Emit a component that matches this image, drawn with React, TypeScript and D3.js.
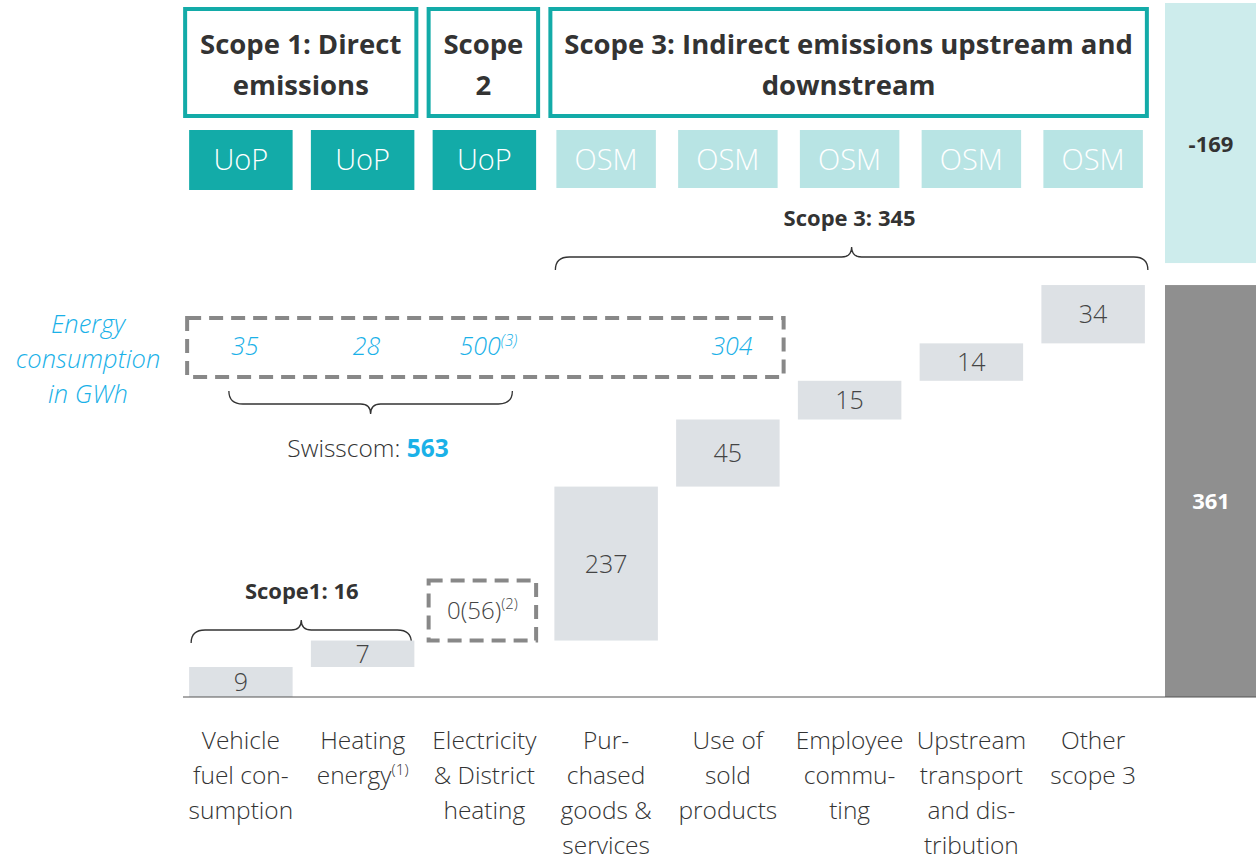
import * as d3 from 'd3'

const categories = [
  ['Vehicle', 'fuel con-', 'sumption'],
  ['Heating', 'energy^(1)'],
  ['Electricity', '& District', 'heating'],
  ['Pur-', 'chased', 'goods &', 'services'],
  ['Use of', 'sold', 'products'],
  ['Employee', 'commu-', 'ting'],
  ['Upstream', 'transport', 'and dis-', 'tribution'],
  ['Other', 'scope 3'],
]
const stepValues = [9, 7, 0, 237, 45, 15, 14, 34]
const stepLabels = ['9', '7', '0(56)^(2)', '237', '45', '15', '14', '34']
const methods = ['UoP', 'UoP', 'UoP', 'OSM', 'OSM', 'OSM', 'OSM', 'OSM']
const energyValues = ['35', '28', '500^(3)', '', '304', '', '', '']
const scopeTitles = [
  ['Scope 1: Direct', 'emissions'],
  ['Scope', '2'],
  ['Scope 3: Indirect emissions upstream and', 'downstream'],
]
const scopeSpans = [[0, 1], [2, 2], [3, 7]]
const totalValue = 361
const offsetValue = -169
const scope1Total = 16
const scope3Total = 345
const swisscomEnergy = 563

const W = 1256
const H = 860
const baseY = 697
const TEAL = '#13aba8'
const TEAL_LIGHT = '#b8e4e4'
const CYAN = '#1ab1e8'
const DARK = '#333'
const FONT = "'Open Sans', 'Noto Sans', sans-serif"

// text with optional ^superscript
function Sup({ s, size }: { s: string; size: number }) {
  const [main, note] = s.split('^')
  return (
    <>
      {main}
      {note && <tspan fontSize={size * 0.62} dy={-size * 0.38}>{note}</tspan>}
    </>
  )
}

// horizontal curly brace, dir -1 = tip up, +1 = tip down
function brace(x0: number, x1: number, y: number, dir: number) {
  const xm = (x0 + x1) / 2
  const h = 13, t = 10
  return `M${x0},${y - dir * h} Q${x0},${y} ${x0 + 14},${y} L${xm - 10},${y} Q${xm},${y} ${xm},${y + dir * t} ` +
    `Q${xm},${y} ${xm + 10},${y} L${x1 - 14},${y} Q${x1},${y} ${x1},${y - dir * h}`
}

export default function App() {
  const x = d3.scaleBand<number>()
    .domain(d3.range(categories.length))
    .range([180, 1154])
    .paddingInner(0.15)
    .paddingOuter(0.075)
  const bw = x.bandwidth()
  const cx = (i: number) => (x(i) ?? 0) + bw / 2

  // schematic waterfall: heights on a sqrt scale
  const h = d3.scaleSqrt().domain([0, totalValue]).range([0, 190])

  let level = baseY
  const steps = stepValues.map((v, i) => {
    const hh = h(v)
    const top = level - hh
    const s = { i, v, top, bottom: level, hh }
    level = top
    return s
  })
  const totalTop = level
  const totX = x.range()[1] + 11

  const boxY = 9, boxH = 107
  const mY = 130, mH = 60

  return (
    <div style={{ position: 'absolute', left: 0, top: 0 }}>
      <svg width={W} height={H} fontFamily={FONT}>
        {/* scope header boxes */}
        {scopeTitles.map((lines, k) => {
          const [a, b] = scopeSpans[k]
          const x0 = (x(a) ?? 0) - 4
          const x1 = (x(b) ?? 0) + bw + 2
          return (
            <g key={k}>
              <rect x={x0} y={boxY} width={x1 - x0} height={boxH} fill="#fff" stroke={TEAL} strokeWidth={4} />
              {lines.map((l, j) => (
                <text key={j} x={(x0 + x1) / 2} y={boxY + 45 + j * 41} textAnchor="middle"
                  fontSize={27.5} fontWeight={700} fill={DARK}>{l}</text>
              ))}
            </g>
          )
        })}

        {/* method boxes */}
        {methods.map((m, i) => {
          const light = m === 'OSM'
          const w = light ? bw - 4 : bw
          return (
            <g key={i}>
              <rect x={cx(i) - w / 2} y={mY} width={w} height={light ? mH - 2 : mH} fill={light ? TEAL_LIGHT : TEAL} />
              <text x={cx(i)} y={mY + mH / 2 + 10} textAnchor="middle" fontSize={29} fontWeight={300} fill="#fff">{m}</text>
            </g>
          )
        })}

        {/* scope 3 brace */}
        <text x={(cx(3) + cx(7)) / 2} y={226} textAnchor="middle" fontSize={22} fontWeight={700} fill={DARK}>
          Scope 3: {scope3Total}
        </text>
        <path d={brace((x(3) ?? 0) + 1, (x(7) ?? 0) + bw + 3, 257, -1)} fill="none" stroke={DARK} strokeWidth={1.3} />

        {/* energy consumption */}
        {['Energy', 'consumption', 'in GWh'].map((l, j) => (
          <text key={j} x={88} y={333 + j * 35} textAnchor="middle" fontSize={25.5} fontStyle="italic" fontWeight={300} fill={CYAN}>{l}</text>
        ))}
        <rect x={(x(0) ?? 0) - 2} y={318} width={(x(4) ?? 0) + bw + 6 - (x(0) ?? 0)} height={59}
          fill="none" stroke="#888" strokeWidth={4} strokeDasharray="14 8" />
        {energyValues.map((e, i) => e && (
          <text key={i} x={cx(i) + 4} y={355} textAnchor="middle" fontSize={25} fontStyle="italic" fontWeight={300} fill={CYAN}>
            <Sup s={e} size={25} />
          </text>
        ))}
        <path d={brace(cx(0) - 12, cx(2) + 28, 404, 1)} fill="none" stroke={DARK} strokeWidth={1.3} />
        <text x={368} y={457} textAnchor="middle" fontSize={24.5} fontWeight={300} fill={DARK}>
          Swisscom: <tspan fontWeight={700} fill={CYAN}>{swisscomEnergy}</tspan>
        </text>

        {/* scope 1 brace */}
        <text x={(cx(0) + cx(1)) / 2} y={599} textAnchor="middle" fontSize={22} fontWeight={700} fill={DARK}>
          Scope1: {scope1Total}
        </text>
        <path d={brace((x(0) ?? 0) + 2, (x(1) ?? 0) + bw - 3, 630, -1)} fill="none" stroke={DARK} strokeWidth={1.3} />

        {/* waterfall steps */}
        {steps.map(s => s.v === 0 ? (
          <g key={s.i}>
            <rect x={(x(s.i) ?? 0) - 4} y={s.bottom - 60} width={bw + 4} height={60}
              fill="none" stroke="#888" strokeWidth={4} strokeDasharray="14 8" />
            <text x={cx(s.i) - 2} y={s.bottom - 22} textAnchor="middle" fontSize={24} fontWeight={300} fill="#444">
              <Sup s={stepLabels[s.i]} size={24} />
            </text>
          </g>
        ) : (
          <g key={s.i}>
            <rect x={x(s.i)} y={s.top} width={bw} height={s.hh} fill="#dde1e5" />
            <text x={cx(s.i)} y={(s.top + s.bottom) / 2 + 9} textAnchor="middle" fontSize={25} fontWeight={300} fill="#444">
              {stepLabels[s.i]}
            </text>
          </g>
        ))}

        {/* totals column */}
        <rect x={totX} y={3} width={100} height={totalTop - 25} fill="#cdecec" />
        <text x={totX + 46} y={152} textAnchor="middle" fontSize={22} fontWeight={700} fill={DARK}>{offsetValue}</text>
        <rect x={totX} y={totalTop} width={100} height={baseY - totalTop} fill="#8f8f8f" />
        <text x={totX + 46} y={(totalTop + baseY) / 2 + 18} textAnchor="middle" fontSize={22} fontWeight={700} fill="#fff">{totalValue}</text>

        <line x1={183} x2={W} y1={baseY} y2={baseY} stroke="#555" strokeWidth={1.2} />

        {/* category labels */}
        {categories.map((lines, i) => (
          <text key={i} x={cx(i)} textAnchor="middle" fontSize={24.5} fontWeight={300} fill={DARK}>
            {lines.map((l, j) => (
              <tspan key={j} x={cx(i)} y={749 + j * 35}><Sup s={l} size={24.5} /></tspan>
            ))}
          </text>
        ))}
      </svg>
    </div>
  )
}
